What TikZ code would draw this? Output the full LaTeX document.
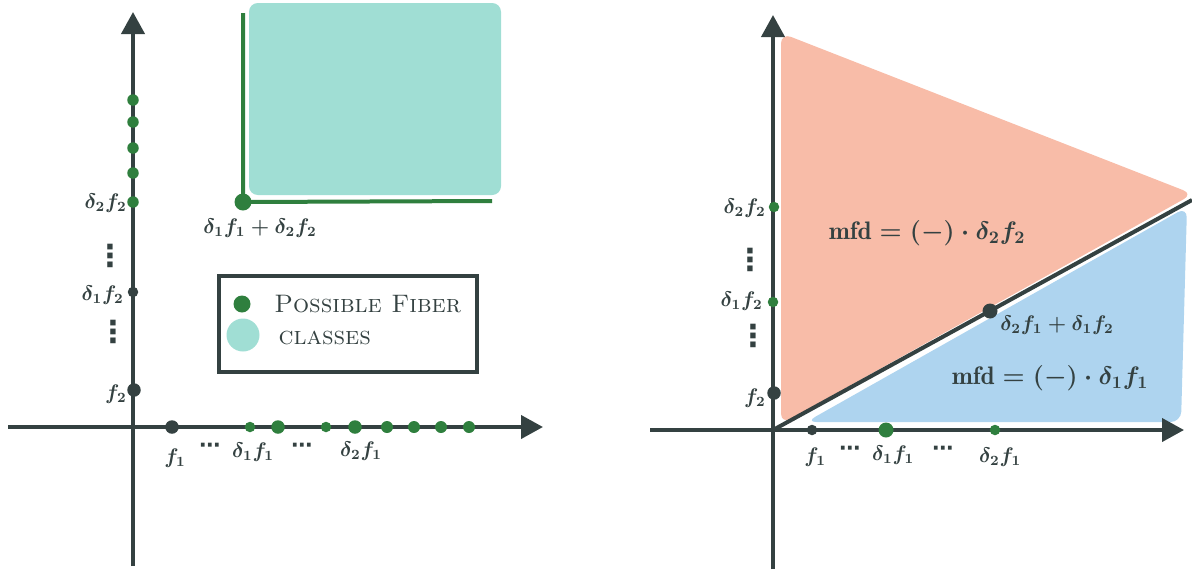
\documentclass[tikz,border=0pt]{standalone}
\usepackage{amsmath}
\usepackage{fontspec}
\newfontfamily\dotsfont{DejaVu Sans}
\usetikzlibrary{arrows.meta}
\definecolor{inkgray}{HTML}{344141}
\definecolor{fibergreen}{HTML}{2F7F3E}
\definecolor{fiberteal}{HTML}{A0DED4}
\definecolor{mfdred}{HTML}{F8BCA8}
\definecolor{mfdblue}{HTML}{AED4EF}
\newcommand\dotsmall{.21cm}
\newcommand\dotlarge{.27cm}

\begin{document}
\begin{tikzpicture}[x=.02cm,y=-.02cm,
		axis/.style={draw=inkgray,line width=.8mm,-{Triangle[length=.44cm,width=.46cm]}},
		gdot/.style={circle,fill=fibergreen,inner sep=0pt,minimum size=\dotsmall},
		ddot/.style={circle,fill=inkgray,inner sep=0pt,minimum size=\dotsmall},
		lbl/.style={text=inkgray,font=\large\boldmath,inner sep=0pt},
		dotslbl/.style={text=inkgray,font=\LARGE\dotsfont\bfseries,inner sep=0pt},
		hdotslbl/.style={text=inkgray,font=\large\dotsfont\bfseries,inner sep=0pt},
		mfdlbl/.style={text=inkgray,font=\Large\boldmath,inner sep=0pt}]
		\useasboundingbox (0,0) rectangle (1192,569);
		% left picture: possible fiber classes
		\fill[fiberteal,rounded corners=5pt] (249,3) rectangle (501,195);
		\coordinate (lxs) at (8,427);
		\coordinate (lxe) at (543,427);
		\coordinate (lys) at (133,566);
		\coordinate (lye) at (133,12);
		\draw[axis] (lxs) -- (lxe);
		\draw[axis] (lys) -- (lye);
		\node(sum)[gdot,minimum size=.34cm] at (243,202) {};
		\coordinate (sumtop) at (243,13);
		\coordinate (sumright) at (492,201);
		\draw[fibergreen,line width=.8mm] (sumtop) -- (sum.center) -- (sumright);
		\node(sumlbl)[lbl] at (260,228) {$\delta_1 f_1+\delta_2 f_2$};
		\foreach \y in {100,122,148,173} \node(lg\y)[gdot,minimum size=.23cm] at (133,\y) {};
		\node(ld2f2)[gdot,minimum size=.23cm] at (133,202) {};
		\node(ld1f2)[ddot] at (133,292) {};
		\node(lf2)[ddot,minimum size=\dotlarge] at (134,390) {};
		\node(lf1)[ddot,minimum size=\dotlarge] at (172,427) {};
		\node(ld1f1)[gdot] at (250,427) {};
		\node(lg278)[gdot,minimum size=\dotlarge] at (278,427) {};
		\node(lg326)[gdot] at (326,427) {};
		\node(ld2f1)[gdot,minimum size=\dotlarge] at (355,427) {};
		\foreach \x in {387,414,441,469} \node(lg\x)[gdot,minimum size=.24cm] at (\x,427) {};
		\node(ld2f2lbl)[lbl,anchor=east] at (127,203) {$\delta_2 f_2$};
		\node(lvd1)[dotslbl] at (110,256) {⋮};
		\node(ld1f2lbl)[lbl,anchor=east] at (124,295) {$\delta_1 f_2$};
		\node(lvd2)[dotslbl] at (113,332) {⋮};
		\node(lf2lbl)[lbl,anchor=east] at (127,394) {$f_2$};
		\node(lf1lbl)[lbl] at (175,458) {$f_1$};
		\node(lcd1)[hdotslbl] at (210,448) {⋯};
		\node(ld1f1lbl)[lbl] at (253,452) {$\delta_1 f_1$};
		\node(lcd2)[hdotslbl] at (302,448) {⋯};
		\node(ld2f1lbl)[lbl] at (361,451) {$\delta_2 f_1$};
		% legend
		\node(legend)[draw=inkgray,line width=.7mm,minimum width=5.16cm,minimum height=1.92cm] at (348,324) {};
		\node(keydot)[gdot,minimum size=.34cm] at (242,304) {};
		\node(keyfill)[circle,fill=fiberteal,inner sep=0pt,minimum size=.66cm] at (243,335) {};
		\node(keytext)[text=inkgray,font=\Large\scshape,align=left,anchor=west,inner sep=0pt] at (274,320) {Possible Fiber\\\,classes};
		% right picture: mfd regions
		\fill[mfdred,rounded corners=6pt] (781,33) -- (1193,194) -- (781,424) -- cycle;
		\fill[mfdblue,rounded corners=6pt] (806,422) -- (1187,207) -- (1181,422) -- cycle;
		\coordinate (rxs) at (650,430);
		\coordinate (rxe) at (1184,430);
		\coordinate (rys) at (773,569);
		\coordinate (rye) at (773,15);
		\coordinate (rorigin) at (773,430);
		\coordinate (rdiag) at (1192,200);
		\draw[axis] (rxs) -- (rxe);
		\draw[axis] (rys) -- (rye);
		\draw[inkgray,line width=.8mm] (rorigin) -- (rdiag);
		\node(rmid)[ddot,minimum size=.3cm] at (990,311) {};
		\node(rd2f2)[gdot] at (774,207) {};
		\node(rd1f2)[gdot] at (773,302) {};
		\node(rf2)[ddot,minimum size=\dotlarge] at (774,393) {};
		\node(rf1)[ddot] at (812,430) {};
		\node(rd1f1)[gdot,minimum size=.3cm] at (886,430) {};
		\node(rd2f1)[gdot] at (995,430) {};
		\node(rd2f2lbl)[lbl,anchor=east] at (766,208) {$\delta_2 f_2$};
		\node(rvd1)[dotslbl] at (750,260) {⋮};
		\node(rd1f2lbl)[lbl,anchor=east] at (763,301) {$\delta_1 f_2$};
		\node(rvd2)[dotslbl] at (753,336) {⋮};
		\node(rf2lbl)[lbl,anchor=east] at (766,398) {$f_2$};
		\node(rf1lbl)[lbl] at (815,457) {$f_1$};
		\node(rcd1)[hdotslbl] at (850,451) {⋯};
		\node(rd1f1lbl)[lbl] at (893,455) {$\delta_1 f_1$};
		\node(rcd2)[hdotslbl] at (943,451) {⋯};
		\node(rd2f1lbl)[lbl] at (1000,457) {$\delta_2 f_1$};
		\node(rmidlbl)[lbl] at (1057,325) {$\delta_2 f_1+\delta_1 f_2$};
		\node(redlbl)[mfdlbl] at (927,233) {$\mathrm{mfd}=(-)\cdot\delta_2 f_2$};
		\node(bluelbl)[mfdlbl] at (1050,378) {$\mathrm{mfd}=(-)\cdot\delta_1 f_1$};
	\end{tikzpicture}
\end{document}
